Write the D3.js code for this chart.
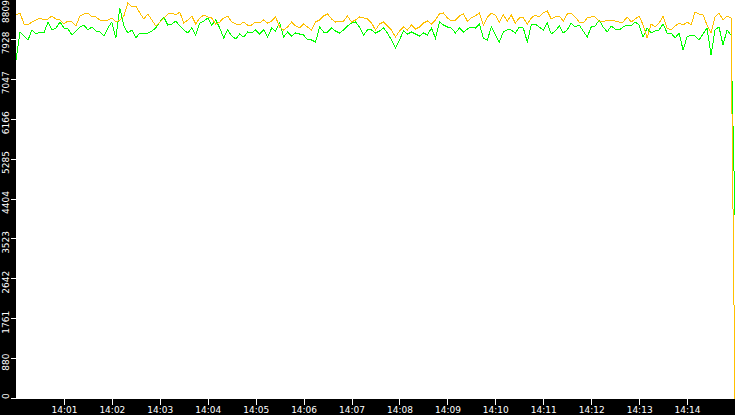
<!doctype html>
<html lang="en">
<head>
  <meta charset="utf-8">
  <title>Throughput</title>
  <script src="https://d3js.org/d3.v7.min.js"></script>
  <style>
    body { margin: 0; background: #000; }
    svg { display: block; }
    text { font-family: "DejaVu Sans", Verdana, sans-serif; font-size: 9px; fill: #fff; }
  </style>
</head>
<body>
  <div id="chart"></div>
  <script>
    // canvas size and plot frame
    var width = 735, height = 415;
    var left = 16, bottom = 399;

    // samples every 5 seconds from 14:00:00 to 14:15:00
    var startTime = new Date(2000, 0, 1, 14, 0, 0);
    var stepSeconds = 5;
    var yMax = 8809;

    var orange = [
      8478, 8522, 8279, 8257, 8323, 8367, 8412, 8367, 8389, 8456,
      8389, 8367, 8279, 8345, 8323, 8235, 8456, 8500, 8522, 8434,
      8434, 8367, 8367, 8367, 8412, 8323, 8367, 8456, 8743, 8655,
      8677, 8522, 8389, 8500, 8367, 8235, 8323, 8412, 8500, 8522,
      8478, 8544, 8301, 8367, 8456, 8279, 8412, 8478, 8434, 8412,
      8279, 8323, 8412, 8456, 8323, 8279, 8257, 8323, 8257, 8257,
      8323, 8301, 8367, 8301, 8345, 8434, 8213, 8147, 8213, 8323,
      8235, 8191, 8279, 8213, 8147, 8323, 8367, 8456, 8500, 8389,
      8323, 8345, 8345, 8456, 8323, 8367, 8434, 8412, 8389, 8301,
      8147, 8279, 8323, 8235, 8147, 7992, 8125, 8213, 8147, 8257,
      8169, 8213, 8301, 8345, 8279, 8367, 8500, 8522, 8412, 8345,
      8367, 8456, 8500, 8345, 8412, 8456, 8522, 8257, 8434, 8522,
      8478, 8323, 8478, 8345, 8478, 8301, 8412, 8412, 8279, 8412,
      8478, 8434, 8522, 8566, 8389, 8434, 8456, 8345, 8500, 8522,
      8434, 8323, 8301, 8412, 8434, 8434, 8345, 8323, 8367, 8367,
      8345, 8323, 8323, 8434, 8323, 8389, 8456, 8257, 7970, 8279,
      8213, 8301, 8456, 8191, 8147, 8235, 8301, 8257, 8323, 8257,
      8544, 8500, 8478, 8257, 8080, 8434, 8522, 8367, 8456, 8412,
      0
    ];

    var green = [
      7484, 8102, 8014, 7926, 8147, 8058, 8102, 8080, 8323, 8147,
      8191, 8323, 8191, 8169, 8036, 8125, 8213, 8257, 8147, 8213,
      8125, 8102, 8014, 8191, 8323, 7970, 8633, 8235, 8080, 8147,
      7970, 8080, 8080, 8080, 8125, 8191, 8323, 8434, 8257, 8279,
      8345, 8235, 8147, 8080, 8191, 8036, 8301, 8345, 8412, 8257,
      8367, 8191, 7970, 8147, 8014, 7948, 8058, 7992, 8102, 8080,
      8147, 8058, 8147, 7992, 8191, 8125, 8301, 7992, 8102, 8014,
      8080, 8058, 8036, 7926, 7926, 7882, 8213, 8102, 8102, 8191,
      8125, 8080, 8147, 8235, 8301, 8323, 8213, 8036, 8147, 8147,
      8080, 8125, 8191, 8080, 7926, 7749, 7926, 8125, 8058, 8102,
      8058, 8014, 8080, 8036, 8191, 7970, 8323, 8257, 8213, 8191,
      8080, 8191, 8102, 8169, 8213, 8191, 8279, 7970, 7926, 8213,
      8036, 7882, 8102, 8147, 8147, 8080, 8213, 8191, 7882, 8257,
      8279, 8213, 8147, 8301, 8058, 8125, 8235, 8080, 8147, 8301,
      8213, 8257, 8125, 7992, 8213, 8235, 8367, 8213, 8102, 8235,
      8169, 8147, 8213, 8257, 8235, 8323, 8257, 7992, 8191, 8080,
      8125, 8147, 8279, 8080, 8080, 7970, 8080, 7705, 7992, 8036,
      8014, 7926, 8058, 8191, 7595, 8147, 8213, 7815, 8147, 8036,
      4062
    ];

    var yTickLabels = ['0', '880', '1761', '2642', '3523', '4404', '5285', '6166', '7047', '7928', '8809'];
    var xTickMinutes = [1, 2, 3, 4, 5, 6, 7, 8, 9, 10, 11, 12, 13, 14];

    function timeAt(i) {
      return new Date(startTime.getTime() + i * stepSeconds * 1000);
    }

    var x = d3.scaleTime()
      .domain([startTime, timeAt(orange.length - 1)])
      .range([left, width]);

    var y = d3.scaleLinear()
      .domain([0, yMax])
      .range([bottom, 0]);

    var svg = d3.select('#chart')
      .append('svg')
      .attr('width', width)
      .attr('height', height);

    svg.append('rect')
      .attr('width', width)
      .attr('height', height)
      .attr('fill', '#000');

    svg.append('rect')
      .attr('x', left)
      .attr('y', 0)
      .attr('width', width - left)
      .attr('height', bottom)
      .attr('fill', '#fff');

    // x axis: minute ticks below the plot
    var xAxis = d3.axisBottom(x)
      .tickValues(xTickMinutes.map(function(m) { return new Date(2000, 0, 1, 14, m, 0); }))
      .tickFormat(d3.timeFormat('%H:%M'))
      .tickSize(6)
      .tickPadding(2);

    var gx = svg.append('g')
      .attr('transform', 'translate(0,' + bottom + ')')
      .call(xAxis);
    gx.select('.domain').remove();
    gx.selectAll('line').attr('stroke', '#fff').attr('shape-rendering', 'crispEdges');
    gx.selectAll('text').attr('fill', '#fff').attr('font-family', null).attr('font-size', null);

    // y axis: ticks on the left, labels turned on their side
    var yTicks = yTickLabels.map(function(d, i) { return yMax * i / 10; });

    var yAxis = svg.append('g');
    yAxis.selectAll('line')
      .data(yTicks)
      .enter()
      .append('line')
      .attr('x1', left - 5)
      .attr('x2', left)
      .attr('y1', function(d) { return Math.round(y(d)) - 0.5; })
      .attr('y2', function(d) { return Math.round(y(d)) - 0.5; })
      .attr('stroke', '#fff')
      .attr('shape-rendering', 'crispEdges');

    yAxis.selectAll('text')
      .data(yTicks)
      .enter()
      .append('text')
      .attr('text-anchor', 'middle')
      .text(function(d, i) { return yTickLabels[i]; })
      .attr('transform', function(d) {
        var half = this.getComputedTextLength() / 2;
        var c = y(d) + 3;
        c = Math.max(half, Math.min(bottom - half, c));
        return 'translate(9,' + c + ') rotate(-90)';
      });

    var line = d3.line()
      .x(function(d, i) { return x(timeAt(i)); })
      .y(function(d) { return y(d); });

    svg.append('path')
      .datum(green)
      .attr('d', line)
      .attr('fill', 'none')
      .attr('stroke', '#00ff00')
      .attr('stroke-width', 1)
      .attr('shape-rendering', 'crispEdges');

    svg.append('path')
      .datum(orange)
      .attr('d', line)
      .attr('fill', 'none')
      .attr('stroke', '#ffc000')
      .attr('stroke-width', 1)
      .attr('shape-rendering', 'crispEdges');
  </script>
</body>
</html>
